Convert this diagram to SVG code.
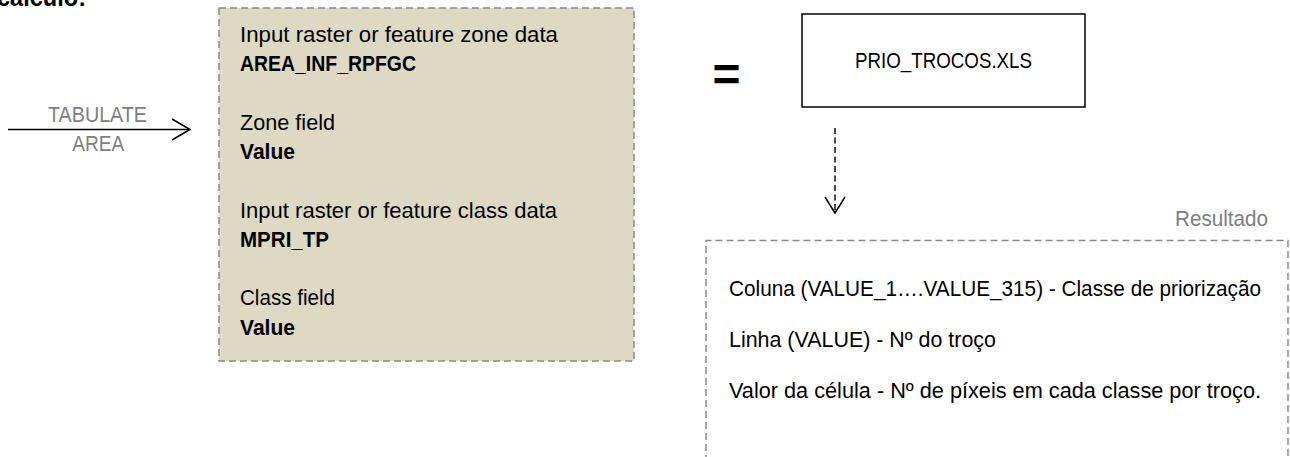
<svg xmlns="http://www.w3.org/2000/svg" width="1290" height="457" viewBox="0 0 1290 457">
  <style>
    text { font-family: "Liberation Sans", Arial, sans-serif; font-size: 21.5px; fill: #000; }
    .b { font-weight: bold; }
    .muted { fill: #808080; }
    .frame { fill: none; stroke: #8a8a8a; stroke-width: 1.5; stroke-dasharray: 7 4; }
    .params { fill: #ddd9c3; }
    .solid { fill: none; stroke: #000; stroke-width: 1.5; }
    .dash { fill: none; stroke: #000; stroke-width: 1.4; stroke-dasharray: 6 3.5; }
    .head { fill: none; stroke: #000; stroke-width: 1.5; stroke-linejoin: miter; }
  </style>

  <!-- section heading, clipped at the top edge -->
  <text class="b" x="-3" y="6" style="font-size:25px" textLength="89" lengthAdjust="spacingAndGlyphs">cálculo:</text>

  <!-- tool parameters -->
  <g id="tabulate-params">
    <rect class="params" x="219" y="8" width="415" height="353"/>
    <rect class="frame" x="219" y="8" width="415" height="353"/>
    <text x="240" y="42" textLength="318" lengthAdjust="spacingAndGlyphs">Input raster or feature zone data</text>
    <text class="b" x="240" y="71" textLength="176" lengthAdjust="spacingAndGlyphs">AREA_INF_RPFGC</text>
    <text x="240" y="130" textLength="95" lengthAdjust="spacingAndGlyphs">Zone field</text>
    <text class="b" x="240" y="159" textLength="55" lengthAdjust="spacingAndGlyphs">Value</text>
    <text x="240" y="218" textLength="317" lengthAdjust="spacingAndGlyphs">Input raster or feature class data</text>
    <text class="b" x="240" y="247" textLength="89" lengthAdjust="spacingAndGlyphs">MPRI_TP</text>
    <text x="240" y="305" textLength="95" lengthAdjust="spacingAndGlyphs">Class field</text>
    <text class="b" x="240" y="335" textLength="55" lengthAdjust="spacingAndGlyphs">Value</text>
  </g>

  <!-- equals sign -->
  <g id="equals">
    <text class="b" x="712.5" y="91" style="font-size:48px">=</text>
  </g>

  <!-- output table -->
  <g id="output-file">
    <rect class="solid" x="802" y="14" width="283" height="93"/>
    <text x="943.5" y="68" text-anchor="middle" textLength="177" lengthAdjust="spacingAndGlyphs">PRIO_TROCOS.XLS</text>
  </g>

  <!-- result description -->
  <g id="result">
    <text class="muted" x="1175" y="226" textLength="93" lengthAdjust="spacingAndGlyphs">Resultado</text>
    <path class="frame" d="M706,462 V240.5 H1288 V462"/>
    <text x="729" y="296" textLength="532" lengthAdjust="spacingAndGlyphs">Coluna (VALUE_1….VALUE_315) - Classe de priorização</text>
    <text x="729" y="347" textLength="267" lengthAdjust="spacingAndGlyphs">Linha (VALUE) - Nº do troço</text>
    <text x="729" y="398" textLength="532" lengthAdjust="spacingAndGlyphs">Valor da célula - Nº de píxeis em cada classe por troço.</text>
  </g>

  <!-- connectors -->
  <g id="connectors">
    <g id="tabulate-area">
      <line class="solid" x1="8" y1="129.5" x2="189" y2="129.5"/>
      <path class="head" d="M172,119 L190,129.5 L172,140"/>
      <text class="muted" x="97.5" y="121.5" text-anchor="middle" textLength="99" lengthAdjust="spacingAndGlyphs">TABULATE</text>
      <text class="muted" x="98.3" y="151" text-anchor="middle" textLength="52" lengthAdjust="spacingAndGlyphs">AREA</text>
    </g>
    <g id="file-to-result">
      <line class="dash" x1="835" y1="128" x2="835" y2="211"/>
      <path class="head" d="M825,197 L835,213 L845,197"/>
    </g>
  </g>
</svg>
